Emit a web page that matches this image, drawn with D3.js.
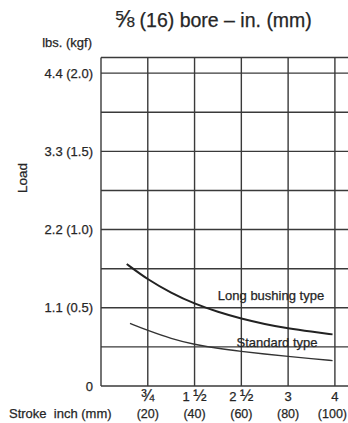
<!DOCTYPE html>
<html>
<head>
<meta charset="utf-8">
<script src="https://cdn.jsdelivr.net/npm/d3@7"></script>
<style>
  body { margin: 0; background: #fff; }
  text { font-family: "Liberation Sans", Arial, sans-serif; fill: #262626; stroke: #262626; stroke-width: 0.25; white-space: pre; }
</style>
</head>
<body>
<div id="chart"></div>
<script>
// load in kgf, stroke in mm
var yTicks = [0, 0.25, 0.5, 0.75, 1.0, 1.25, 1.5, 1.75, 2.0];
var yLabels = {0: "0", 0.5: "1.1 (0.5)", 1.0: "2.2 (1.0)", 1.5: "3.3 (1.5)", 2.0: "4.4 (2.0)"};
var xTicks = [20, 40, 60, 80, 100];
var xWhole = ["", "1 ", "2 ", "3", "4"];
var xFrac = ["\u00be", "\u00bd", "\u00bd", "", ""];
var xBottomLabels = ["(20)", "(40)", "(60)", "(80)", "(100)"];

var longStroke = [11, 20, 30, 40, 50, 60, 70, 80, 90, 99];
var longLoad = [0.78, 0.68, 0.595, 0.525, 0.473, 0.43, 0.396, 0.368, 0.347, 0.33];
var stdStroke = [12.4, 20, 30, 40, 50, 60, 70, 80, 90, 99];
var stdLoad = [0.40, 0.355, 0.302, 0.265, 0.24, 0.221, 0.204, 0.189, 0.175, 0.162];

var width = 348, height = 423;
var svg = d3.select("#chart").append("svg")
    .attr("width", width)
    .attr("height", height);

var x = d3.scaleLinear().domain([0, 105.6]).range([101, 348]);
var y = d3.scaleLinear().domain([0, 2.1]).range([386, 57.5]);

var grid = svg.append("g")
    .attr("stroke", "#3a3a3a")
    .attr("stroke-width", 1.4);

// horizontal grid + top border
grid.selectAll("line.h")
  .data(yTicks.concat([2.1]))
  .enter().append("line")
    .attr("x1", x(0)).attr("x2", width)
    .attr("y1", d => y(d)).attr("y2", d => y(d));

// vertical grid + y axis
grid.selectAll("line.v")
  .data([0].concat(xTicks))
  .enter().append("line")
    .attr("x1", d => x(d)).attr("x2", d => x(d))
    .attr("y1", y(0)).attr("y2", y(2.1));

// y tick labels
svg.selectAll("text.yl")
  .data(yTicks.filter(d => yLabels[d] !== undefined))
  .enter().append("text")
    .attr("x", 93)
    .attr("y", d => y(d))
    .attr("dy", "0.35em")
    .attr("text-anchor", "end")
    .attr("font-size", 13)
    .text(d => yLabels[d]);

svg.append("text")
    .attr("x", 92).attr("y", 47)
    .attr("text-anchor", "end")
    .attr("font-size", 13)
    .text("lbs. (kgf)");

svg.append("text")
    .attr("transform", "translate(27,178) rotate(-90)")
    .attr("text-anchor", "middle")
    .attr("font-size", 13.5)
    .text("Load");

// x tick labels
var xt = svg.selectAll("text.xt")
  .data(xTicks)
  .enter().append("text")
    .attr("x", d => x(d))
    .attr("y", 401)
    .attr("text-anchor", "middle")
    .attr("font-size", 13);
xt.append("tspan").text((d, i) => xWhole[i]);
xt.append("tspan").attr("font-size", 16).text((d, i) => xFrac[i]);

svg.selectAll("text.xb")
  .data(xTicks)
  .enter().append("text")
    .attr("x", d => x(d))
    .attr("y", 418)
    .attr("text-anchor", "middle")
    .attr("font-size", 12.5)
    .text((d, i) => xBottomLabels[i])
    .each(function() {
      // keep the last label inside the picture
      var w = this.getComputedTextLength();
      var cx = +this.getAttribute("x");
      if (cx + w / 2 > width - 1) this.setAttribute("x", width - 1 - w / 2);
    });

svg.append("text")
    .attr("x", 9).attr("y", 418)
    .attr("font-size", 13)
    .text("Stroke  inch (mm)");

// title
var title = svg.append("text")
    .attr("x", 213).attr("y", 27)
    .attr("text-anchor", "middle")
    .attr("font-size", 19.5);
title.append("tspan").attr("font-size", 24).text("\u215d");
title.append("tspan").text(" (16) bore \u2013 in. (mm)");

var line = d3.line()
    .x(d => x(d[0]))
    .y(d => y(d[1]))
    .curve(d3.curveBasis);

svg.append("path")
    .attr("fill", "none")
    .attr("stroke", "#222")
    .attr("stroke-width", 2)
    .attr("d", line(d3.zip(longStroke, longLoad)));

svg.append("path")
    .attr("fill", "none")
    .attr("stroke", "#333")
    .attr("stroke-width", 1.4)
    .attr("d", line(d3.zip(stdStroke, stdLoad)));

svg.append("text")
    .attr("x", 271).attr("y", 300)
    .attr("text-anchor", "middle")
    .attr("font-size", 13)
    .text("Long bushing type");

svg.append("text")
    .attr("x", 277).attr("y", 347)
    .attr("text-anchor", "middle")
    .attr("font-size", 13)
    .text("Standard type");
</script>
</body>
</html>
